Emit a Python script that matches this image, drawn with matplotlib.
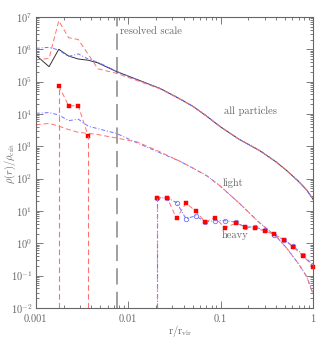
import matplotlib
matplotlib.use('Agg')
import matplotlib.pyplot as plt
import matplotlib.ticker as mticker
import numpy as np

# radius grid for the "all particles" and "light" profiles (r / r_vir)
r_prof = [0.001, 0.00139, 0.00177, 0.00226, 0.00288, 0.00368, 0.00469, 0.00748,
          0.0126, 0.0220, 0.0355, 0.0506, 0.0708, 0.0984, 0.158, 0.267, 0.398,
          0.520, 0.708, 0.857, 1.0]

all_black = [6.6e5, 2.9e5, 1.0e6, 6.2e5, 5.0e5, 4.6e5, 3.8e5, 2.04e5, 1.15e5,
             6.2e4, 3.0e4, 1.7e4, 8.5e3, 4.1e3, 1.66e3, 724, 331, 178, 79, 44.7, 23.4]
all_blue = [1.07e6, 1.15e6, 9.5e5, 6.0e5, 7.2e5, 5.0e5, 4.0e5, 2.1e5, 1.12e5,
            6.2e4, 3.1e4, 1.7e4, 8.7e3, 4.2e3, 1.66e3, 741, 339, 178, 81, 43.7, 22.9]
all_red = [4.7e5, 5.2e5, 7.6e6, 2.3e6, 2.0e6, 7.1e5, 2.5e5, 1.8e5, 1.07e5,
           6.0e4, 3.0e4, 1.7e4, 8.5e3, 4.1e3, 1.66e3, 724, 331, 178, 79, 44.7, 23.4]

light_blue = [1.05e4, 1.1e4, 9.3e3, 6.2e3, 6.9e3, 4.2e3, 3.5e3, 2.5e3, 1.26e3,
              631, 355, 209, 123, 60, 17.8, 4.2, 1.66, 0.71, 0.22, 0.093, 0.028]
light_red = [4.6e3, 5.1e3, 4.2e3, 3.3e3, 2.7e3, 2.5e3, 2.3e3, 1.8e3, 1.35e3,
             676, 355, 209, 123, 60, 17.8, 4.2, 1.66, 0.71, 0.22, 0.093, 0.028]

# heavy particles, binned
r_heavy = [0.0203, 0.0265, 0.0334, 0.0422, 0.0540, 0.0678, 0.0869, 0.112, 0.147,
           0.184, 0.236, 0.303, 0.379, 0.486, 0.614, 0.787, 1.0]
heavy_red = [25.7, 25.1, 5.9, 17.4, 9.8, 4.6, 6.2, 3.0, 4.2, 3.2, 2.9, 2.4, 1.9,
             1.29, 0.76, 0.41, 0.19]
heavy_blue = [25.7, 25.1, 18.2, 5.75, 7.1, 4.6, 5.0, 5.0, 4.5, 3.2, 3.2, 2.5, 1.82,
              1.29, 0.81, 0.43, 0.21]

# heavy particles that sit in the centre (red run only)
r_core = [0.00177, 0.00226, 0.00288, 0.00368]
core_red = [7.5e4, 1.8e4, 1.77e4, 2.14e3]

r_resolved = 0.0076

plt.rcParams['font.family'] = ['cmr10', 'DejaVu Serif']
plt.rcParams['mathtext.fontset'] = 'cm'
plt.rcParams['axes.formatter.use_mathtext'] = True

grey = '#666666'
red = '#ff7070'
blue = '#7070ff'
ybot = 1e-2

fig = plt.figure(figsize=(3.29, 3.46), dpi=100)
ax = fig.add_axes([0.109, 0.110, 0.842, 0.841])
ax.set_xscale('log')
ax.set_yscale('log')
ax.set_xlim(1e-3, 1)
ax.set_ylim(ybot, 1e7)

ax.axvline(r_resolved, color='#999999', lw=1.3, dashes=(9, 4))

ax.plot(r_prof, all_black, color='#333333', lw=0.7)
ax.plot(r_prof, all_blue, color=blue, lw=0.7, dashes=(4, 2, 1, 2))
ax.plot(r_prof, all_red, color=red, lw=0.7, dashes=(5, 3))
ax.plot(r_prof, light_blue, color=blue, lw=0.7, dashes=(4, 2, 1, 2))
ax.plot(r_prof, light_red, color=red, lw=0.7, dashes=(5, 3))

# core heavy particles: bins with no particles drop to the floor
ax.plot(r_core, core_red, color=red, lw=0.7, dashes=(5, 3), marker='s',
        ms=2.6, mfc='red', mec='red', mew=0.3)
for i in (0, -1):
    ax.plot([r_core[i], r_core[i]], [ybot, core_red[i]], color=red, lw=0.8,
            dashes=(5, 3))

ax.plot(r_heavy, heavy_blue, color=blue, lw=0.7, dashes=(4, 2, 1, 2),
        marker='o', ms=3.2, mfc='none', mec=blue, mew=0.6)
ax.plot([r_heavy[0], r_heavy[0]], [ybot, heavy_blue[0]], color=blue, lw=0.8,
        dashes=(4, 2, 1, 2))
ax.plot(r_heavy, heavy_red, color=red, lw=0.7, dashes=(5, 3), marker='s',
        ms=2.6, mfc='red', mec='red', mew=0.3, clip_on=False)
ax.plot([r_heavy[0], r_heavy[0]], [ybot, heavy_red[0]], color=red, lw=0.8,
        dashes=(5, 3), alpha=0.7)

ax.text(0.0081, 3.7e6, 'resolved scale', color=grey, fontsize=7.5,
        ha='left', va='center')
ax.text(0.212, 1.2e4, 'all particles', color=grey, fontsize=7.5,
        ha='center', va='center')
ax.text(0.138, 75, 'light', color=grey, fontsize=7.5, ha='center', va='center')
ax.text(0.145, 1.8, 'heavy', color=grey, fontsize=7.5, ha='center', va='center')

fig.text(180 / 329, 1 - 331 / 346, r'$\rm r/r_{vir}$', color=grey, fontsize=7.5,
         ha='center', va='center')
fig.text(10 / 329, 1 - 163 / 346, r'$\rho(r)/\rho_{\rm crit}$', color=grey,
         fontsize=7.5, ha='center', va='center', rotation=90)

ax.xaxis.set_major_formatter(mticker.FixedFormatter(['0.001', '0.01', '0.1', '1']))
ax.xaxis.set_major_locator(mticker.FixedLocator([1e-3, 1e-2, 1e-1, 1]))
ax.yaxis.set_major_locator(mticker.LogLocator(base=10, numticks=12))
ax.yaxis.set_minor_locator(mticker.LogLocator(base=10, subs=np.arange(2, 10), numticks=12))
ax.yaxis.set_minor_formatter(mticker.NullFormatter())
ax.xaxis.set_minor_formatter(mticker.NullFormatter())

ax.tick_params(which='both', direction='in', top=True, right=True,
               color=grey, labelcolor=grey, labelsize=7.5, width=0.6)
ax.tick_params(axis='y', pad=2.5)
ax.tick_params(axis='x', pad=5)
ax.tick_params(which='major', length=5)
ax.tick_params(which='minor', length=2.5)
for s in ax.spines.values():
    s.set_color(grey)
    s.set_linewidth(0.8)

fig.savefig('out.png', dpi=100)
